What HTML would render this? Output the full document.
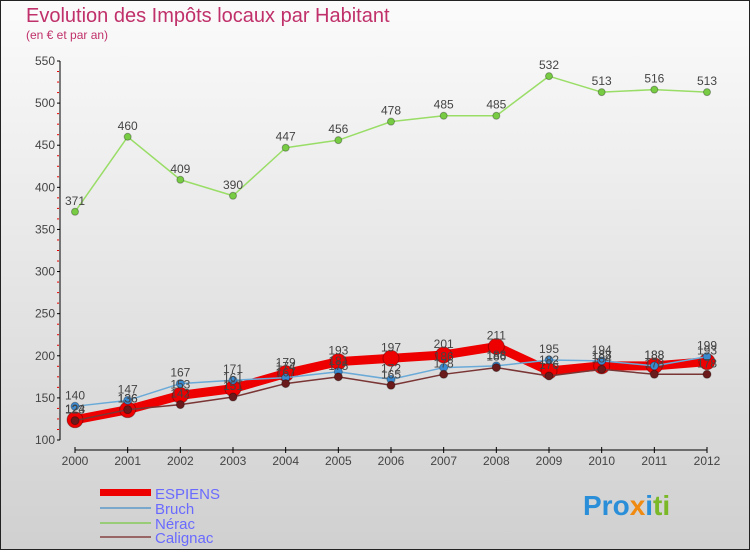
<!DOCTYPE html>
<html><head><meta charset="utf-8"><style>
body{margin:0}
svg text{font-family:"Liberation Sans",sans-serif}
</style></head><body>
<svg id="c" width="750" height="550" xmlns="http://www.w3.org/2000/svg">
<defs><linearGradient id="bg" x1="0" y1="0" x2="0" y2="1"><stop offset="0" stop-color="#fbfbfb"/><stop offset="1" stop-color="#d0d0d0"/></linearGradient></defs>
<rect x="0.5" y="0.5" width="749" height="549" fill="url(#bg)" stroke="#222"/>
<text x="26" y="22" font-size="20" fill="#c0306a">Evolution des Impôts locaux par Habitant</text>
<text x="26" y="39" font-size="12" fill="#c0306a">(en € et par an)</text>
<g id="axes"></g><g id="series"></g><g id="labels"></g>
<g>
<rect x="100" y="489" width="51" height="7" fill="#e00"/>
<text x="155" y="499" font-size="15" fill="#6a6aff">ESPIENS</text>
<line x1="100" y1="508" x2="151" y2="508" stroke="#7aa8cc" stroke-width="2"/>
<text x="155" y="514" font-size="15" fill="#6a6aff">Bruch</text>
<line x1="100" y1="523" x2="151" y2="523" stroke="#99cc77" stroke-width="2"/>
<text x="155" y="529" font-size="15" fill="#6a6aff">Nérac</text>
<line x1="100" y1="537" x2="151" y2="537" stroke="#996666" stroke-width="2"/>
<text x="155" y="543" font-size="15" fill="#6a6aff">Calignac</text>
</g>
<text x="583" y="515" font-size="28" font-weight="bold"><tspan fill="#2a8fd8">Pro</tspan><tspan fill="#f08a10">x</tspan><tspan fill="#2a8fd8">i</tspan><tspan fill="#7ab828">ti</tspan></text>
</svg>
<script>
const years=[2000,2001,2002,2003,2004,2005,2006,2007,2008,2009,2010,2011,2012];
const yTicks=[100,150,200,250,300,350,400,450,500,550];
const espiens=[124,136,153,161,179,193,197,201,211,182,188,188,193];
const bruch=[140,147,167,171,174,181,172,186,188,195,194,188,199];
const nerac=[371,460,409,390,447,456,478,485,485,532,513,516,513];
const calignac=[123,136,142,151,167,175,165,178,186,176,184,178,178];
const NS="http://www.w3.org/2000/svg";
const X=i=>75+i*(707-75)/(years.length-1);
const Y=v=>440-(v-100)*(440-61)/450;
function mk(t,a,p){const e=document.createElementNS(NS,t);for(const k in a)e.setAttribute(k,a[k]);p.appendChild(e);return e;}
const ax=document.getElementById('axes'),sg=document.getElementById('series'),lg=document.getElementById('labels');
let l=mk('line',{x1:60,y1:61,x2:60,y2:440,stroke:'#000'},ax);


l=mk('line',{x1:75,y1:450,x2:707,y2:450,stroke:'#000'},ax);


yTicks.forEach((v,i)=>{
 mk('line',{x1:57,y1:Y(v),x2:60,y2:Y(v),stroke:'#000'},ax);
 if(i<yTicks.length-1){for(let k=1;k<=3;k++){mk('line',{x1:57,y1:Y(v+k*12.5),x2:59,y2:Y(v+k*12.5),stroke:'#e00'},ax);}}
 const t=mk('text',{x:55,y:Y(v)+4,'font-size':12,fill:'#444','text-anchor':'end'},ax);t.textContent=v;
 
 
});
years.forEach((y,i)=>{
 mk('line',{x1:X(i),y1:447,x2:X(i),y2:453,stroke:'#000'},ax);
 const t=mk('text',{x:X(i),y:465,'font-size':12,fill:'#444','text-anchor':'middle'},ax);t.textContent=y;
 
 
});
function series(d,name,col,w,r,pc){
 const p=mk('polyline',{points:d.map((v,i)=>X(i)+','+Y(v)).join(' '),fill:'none',stroke:col,'stroke-width':w,'stroke-linejoin':'round'},sg);
 
 
 d.forEach((v,i)=>{
  const c=mk('circle',{cx:X(i),cy:Y(v),r:r,fill:pc,stroke:'rgba(0,0,0,0.3)'},sg);
  
  
  const t=mk('text',{x:X(i),y:Y(v)-7,'font-size':12,fill:'#444','text-anchor':'middle'},lg);t.textContent=v;
  
  
 });
}
series(nerac,'nerac','#99dd66',1.5,3.5,'#77cc44');
series(espiens,'espiens','#ee0000',9,8,'#ee0000');
series(bruch,'bruch','#6aaad8',1.5,4,'#3a8ad0');
series(calignac,'calignac','#7a3535',1.5,4,'#6a1a1a');
</script>
</body></html>
